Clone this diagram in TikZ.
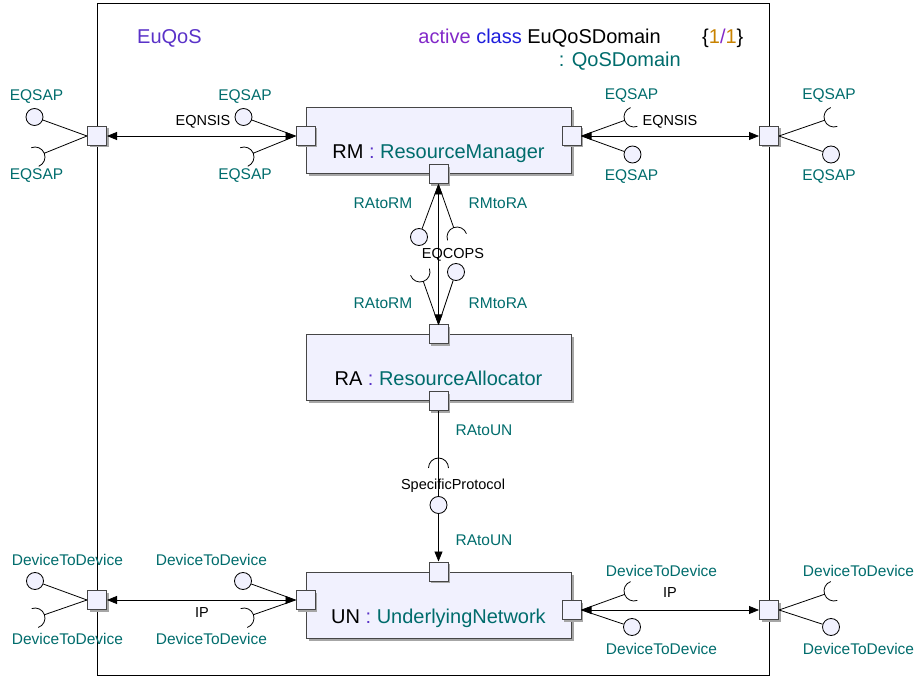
\documentclass[tikz,border=0pt]{standalone}
\usepackage{fontspec}
\setmainfont{Liberation Sans}
\usepackage{tikz}
\usetikzlibrary{arrows.meta,positioning,calc,shadows}
\definecolor{uteal}{RGB}{0,108,108}
\definecolor{uviolet}{RGB}{90,50,200}
\definecolor{upurple}{RGB}{130,40,200}
\definecolor{ublue}{RGB}{30,30,220}
\definecolor{uorange}{RGB}{200,130,0}
\definecolor{ufill}{RGB}{241,241,254}
\definecolor{uborder}{RGB}{70,70,70}
\tikzset{
  part/.style={rectangle, draw=uborder, line width=1pt, fill=ufill, minimum width=265pt, minimum height=66pt, text height=36pt, text depth=0pt, inner sep=0pt, font=\fontsize{20}{24}\selectfont, drop shadow={shadow xshift=2.5pt, shadow yshift=-2.5pt, fill=black!35, opacity=1}},
  port/.style={rectangle, draw=uborder, line width=1pt, fill=ufill, minimum size=19pt, inner sep=0pt, drop shadow={shadow xshift=2pt, shadow yshift=-2pt, fill=black!35, opacity=1}},
  ball/.style={circle, draw=black, line width=0.8pt, fill=ufill, minimum size=17pt, inner sep=0pt},
  iface/.style={font=\fontsize{15.5}{18}\selectfont, text=uteal, inner sep=0pt},
  conn/.style={font=\fontsize{14.5}{17}\selectfont, inner sep=0pt},
  title/.style={font=\fontsize{20}{24}\selectfont, inner sep=0pt},
  link/.style={{Triangle[length=10pt,width=8pt]}-{Triangle[length=10pt,width=8pt]}, line width=0.8pt},
  onelink/.style={-{Triangle[length=10pt,width=8pt]}, line width=0.8pt},
  wire/.style={line width=0.8pt}
}
% required interface: half circle facing the port
\newcommand{\socket}[2]{%
  \draw[wire] let \p1=($(#2)-(#1)$), \n1={atan2(\y1,\x1)} in
    ($(#1)+(\n1-90:10pt)$) arc[start angle=\n1-90, end angle=\n1+90, radius=10pt]
    ($(#1)+(\n1:10pt)$) -- (#2);}

\begin{document}
\begin{tikzpicture}[x=1pt,y=-1pt]
\useasboundingbox (0,0) rectangle (919,676);
\draw[line width=1pt] (97,4) rectangle (769,675);
\node[title, anchor=west, text=uviolet] (pkg) at (137,38) {EuQoS};
\node[title, anchor=east] (cls) at (661,38) {\textcolor{upurple}{active} \textcolor{ublue}{class} EuQoSDomain};
\node[title, anchor=west] (mult) at (702,38) {\{\textcolor{uorange}{1}\textcolor{upurple}{/}\textcolor{uorange}{1}\}};
\node[title, anchor=east, text=uteal] (typ) at (681,61) {: QoSDomain};

% parts
\node[part] (rm) at (438.5,141) {RM \textcolor{uviolet}{:} \textcolor{uteal}{ResourceManager}};
\node[part] (ra) at (438.5,368) {RA \textcolor{uviolet}{:} \textcolor{uteal}{ResourceAllocator}};
\node[part] (un) at (438.5,605) {UN \textcolor{uviolet}{:} \textcolor{uteal}{UnderlyingNetwork}};

% ports
\node[port] (rmW) at ([yshift=5pt]rm.west) {};
\node[port] (rmE) at ([yshift=5pt]rm.east) {};
\node[port] (rmS) at (rm.south) {};
\node[port] (raN) at (ra.north) {};
\node[port] (raS) at (ra.south) {};
\node[port] (unN) at (un.north) {};
\node[port] (unW) at ([yshift=5pt]un.west) {};
\node[port] (unE) at ([yshift=-5pt]un.east) {};
\node[port] (domW) at (97,136) {};
\node[port] (domE) at (769,136) {};
\node[port] (devW) at (97,600) {};
\node[port] (devE) at (769,610) {};

% connectors
\draw[link] (domW.east) -- (rmW.west);
\draw[link] (rmE.east) -- (domE.west);
\draw[link] (rmS.south) -- (raN.north);
\draw[onelink] (raS.south) -- (unN.north);
\draw[link] (devW.east) -- (unW.west);
\draw[link] (unE.east) -- (devE.west);
\node[conn] (nsisW) at (203,122) {EQNSIS};
\node[conn] (nsisE) at (670,122) {EQNSIS};
\node[conn] (cops) at (453,255) {EQCOPS};
\node[conn] (spec) at (453,486) {SpecificProtocol};
\node[conn] (ipW) at (202,613) {IP};
\node[conn] (ipE) at (670,593) {IP};

% EQSAP interfaces
\node[ball] (sapA) at (34.5,117) {};
\draw[wire] (sapA) -- (domW.west);
\coordinate (sapB) at (35,157);
\socket{sapB}{domW.west}
\node[ball] (sapC) at (243.5,117) {};
\draw[wire] (sapC) -- (rmW.west);
\coordinate (sapD) at (244,157);
\socket{sapD}{rmW.west}
\coordinate (sapE) at (634,117);
\socket{sapE}{rmE.east}
\node[ball] (sapF) at (632.5,154.5) {};
\draw[wire] (sapF) -- (rmE.east);
\coordinate (sapG) at (834,117);
\socket{sapG}{domE.east}
\node[ball] (sapH) at (831,154.5) {};
\draw[wire] (sapH) -- (domE.east);
\node[iface] at (36.5,97) {EQSAP};
\node[iface] at (36.5,176) {EQSAP};
\node[iface] at (245,97) {EQSAP};
\node[iface] at (245,176) {EQSAP};
\node[iface] at (631.5,96) {EQSAP};
\node[iface] at (631.5,177) {EQSAP};
\node[iface] at (829,96) {EQSAP};
\node[iface] at (829,177) {EQSAP};

% RM / RA interfaces
\node[ball] (ratormA) at (419,237) {};
\draw[wire] (ratormA) -- (rmS.south);
\coordinate (rmtoraA) at (457,237);
\socket{rmtoraA}{rmS.south}
\coordinate (ratormB) at (420,272);
\socket{ratormB}{raN.north}
\node[ball] (rmtoraB) at (456,272) {};
\draw[wire] (rmtoraB) -- (raN.north);
\node[iface] at (383,203) {RAtoRM};
\node[iface] at (498,203) {RMtoRA};
\node[iface] at (383,303) {RAtoRM};
\node[iface] at (498,303) {RMtoRA};

% RA / UN interfaces
\coordinate (ratounA) at (438.5,468);
\socket{ratounA}{raS.south}
\node[ball] (ratounB) at (438.5,505) {};
\node[iface] at (484,430) {RAtoUN};
\node[iface] at (484,540) {RAtoUN};

% DeviceToDevice interfaces
\node[ball] (dtdA) at (35,581) {};
\draw[wire] (dtdA) -- (devW.west);
\coordinate (dtdB) at (35,618);
\socket{dtdB}{devW.west}
\node[ball] (dtdC) at (243,581) {};
\draw[wire] (dtdC) -- (unW.west);
\coordinate (dtdD) at (244,618);
\socket{dtdD}{unW.west}
\coordinate (dtdE) at (634,591);
\socket{dtdE}{unE.east}
\node[ball] (dtdF) at (632,627) {};
\draw[wire] (dtdF) -- (unE.east);
\coordinate (dtdG) at (834,591);
\socket{dtdG}{devE.east}
\node[ball] (dtdH) at (831,627) {};
\draw[wire] (dtdH) -- (devE.east);
\node[iface] at (67.5,560) {DeviceToDevice};
\node[iface] at (67.5,639) {DeviceToDevice};
\node[iface] at (211.5,560) {DeviceToDevice};
\node[iface] at (211.5,639) {DeviceToDevice};
\node[iface] at (661.5,571) {DeviceToDevice};
\node[iface] at (661.5,649) {DeviceToDevice};
\node[iface] at (858.5,571) {DeviceToDevice};
\node[iface] at (858.5,649) {DeviceToDevice};
\end{tikzpicture}
\end{document}
